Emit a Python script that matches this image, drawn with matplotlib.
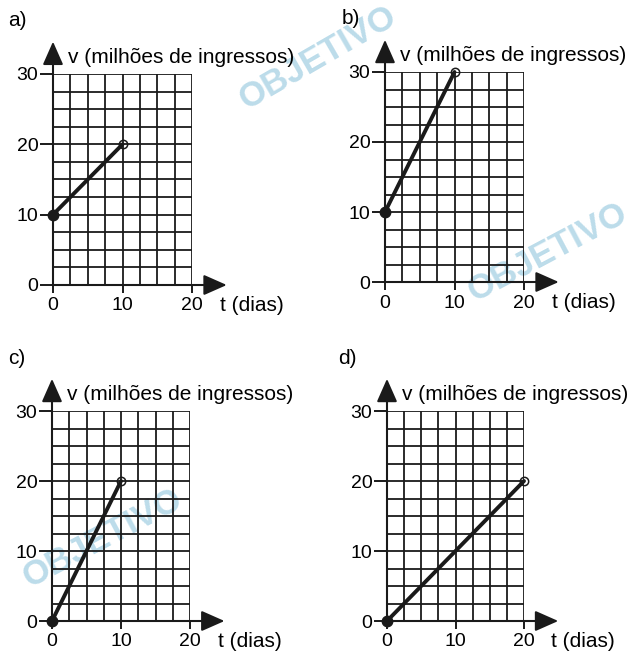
import matplotlib
matplotlib.use("Agg")
import matplotlib.pyplot as plt
import numpy as np

plt.rcParams["font.family"] = ["Liberation Sans", "DejaVu Sans"]

W, H = 636, 654

# two-point graphs: start (filled) and end (open) of each segment
t_a, v_a = [0, 10], [10, 20]
t_b, v_b = [0, 10], [10, 30]
t_c, v_c = [0, 10], [0, 20]
t_d, v_d = [0, 20], [0, 20]

panel_names = ["a)", "b)", "c)", "d)"]
x_ticks = [0, 10, 20]
y_ticks = [0, 10, 20, 30]
y_label = "v (milhões de ingressos)"
x_label = "t (dias)"
watermark = "OBJETIVO"

# pixel boxes of the plotting grid: (x at t=0, x at t=20, y at v=0, y at v=30)
boxes = [(53, 192, 285, 74), (385, 524, 282, 72),
         (52, 190, 621, 411), (387, 524, 621, 411)]
series = [(t_a, v_a), (t_b, v_b), (t_c, v_c), (t_d, v_d)]
name_pos = [(8, 21), (342, 19), (8, 359), (338, 359)]
fs = 14
fs_lab = 15

fig = plt.figure(figsize=(W / 100, H / 100), dpi=100)

# light blue watermark behind the grids
wm = dict(color="#bcdcea", fontsize=25, fontweight="bold", ha="center",
          va="center", zorder=0)
fig.text(318 / W, 1 - 58 / H, watermark, rotation=30, **wm)
fig.text(548 / W, 1 - 252 / H, watermark, rotation=28, **wm)
fig.text(103 / W, 1 - 538 / H, watermark, rotation=28, **wm)

for (x0, x1, y0, y1), (t, v), name, (nx, ny) in zip(boxes, series, panel_names, name_pos):
    ax = fig.add_axes([x0 / W, 1 - y0 / H, (x1 - x0) / W, (y0 - y1) / H])
    ax.set_zorder(1)
    ax.set_facecolor("none")
    ax.set_xlim(0, 20)
    ax.set_ylim(0, 30)
    for s in ax.spines.values():
        s.set_visible(False)

    # square grid, 2.5 units per cell
    ax.vlines(np.arange(2.5, 20.01, 2.5), 0, 30, color="#1a1a1a", lw=1.3, zorder=1)
    ax.hlines(np.arange(2.5, 30.01, 2.5), 0, 20, color="#1a1a1a", lw=1.3, zorder=1)

    # axes with arrow heads
    head = "-|>,head_length=0.95,head_width=0.42"
    ax.annotate("", xy=(25.0, 0), xytext=(0, 0), annotation_clip=False,
                arrowprops=dict(arrowstyle=head, color="#1a1a1a", lw=1.5,
                                shrinkA=0, shrinkB=0, mutation_scale=15))
    ax.annotate("", xy=(0, 34.6), xytext=(0, 0), annotation_clip=False,
                arrowprops=dict(arrowstyle=head, color="#1a1a1a", lw=1.5,
                                shrinkA=0, shrinkB=0, mutation_scale=15))

    ax.set_xticks(x_ticks)
    ax.set_yticks(y_ticks)
    ax.tick_params(axis="x", length=6, width=1.4, pad=3, labelsize=fs, color="#1a1a1a")
    ax.tick_params(axis="y", length=9.5, width=1.4, pad=1, labelsize=fs, color="#1a1a1a")

    ax.plot(t, v, color="#1a1a1a", lw=2.8, zorder=3, solid_capstyle="round", clip_on=False)
    ax.plot(t[0], v[0], "o", ms=7.5, color="#1a1a1a", zorder=4, clip_on=False)
    ax.plot(t[1], v[1], "o", ms=6.0, mfc="none", mec="#1a1a1a", mew=1.1,
            zorder=4, clip_on=False)

    ax.text(2.2, 32.4, y_label, fontsize=fs_lab, ha="left", va="center",
            clip_on=False)
    ax.text(24.0, -2.9, x_label, fontsize=fs_lab, ha="left", va="center", clip_on=False)

    fig.text(nx / W, 1 - ny / H, name, fontsize=fs_lab, ha="left", va="center")

fig.savefig("out.png", dpi=100)
